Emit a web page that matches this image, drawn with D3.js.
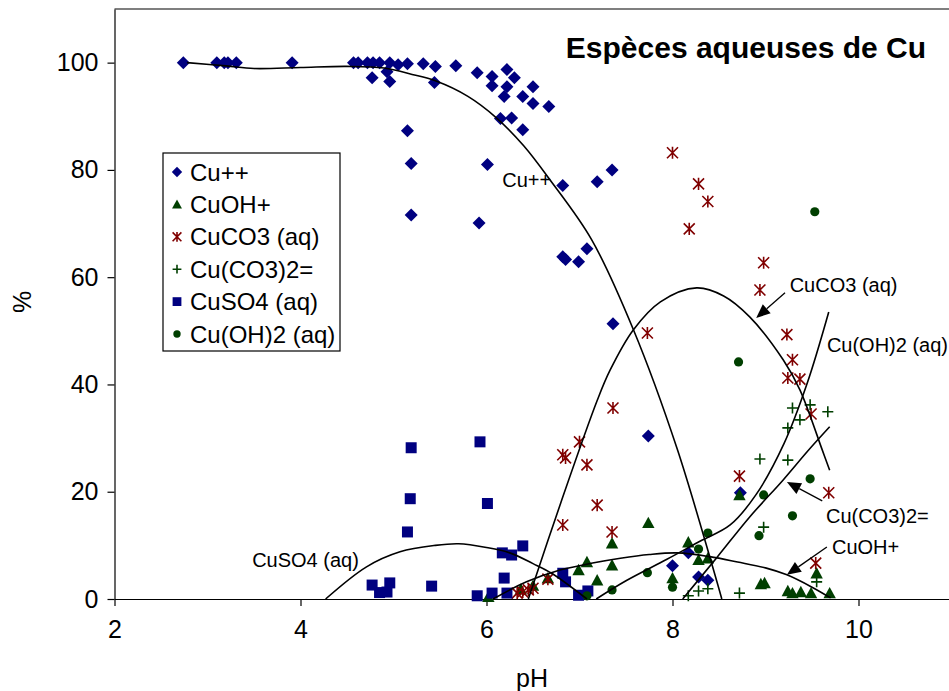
<!DOCTYPE html>
<html>
<head>
<meta charset="utf-8">
<script src="https://cdn.jsdelivr.net/npm/d3@7"></script>
<style>
  body { margin: 0; background: #fff; }
  svg text { font-family: Arial, "Liberation Sans", sans-serif; }
</style>
</head>
<body>
<svg id="chart" width="949" height="691"></svg>
<script>
// measured points, [pH, %]
let cuPlus = [[2.74,100],[3.10,100],[3.18,100],[3.22,100],[3.31,100],[3.91,100],[4.57,100],[4.62,100],
  [4.72,100],[4.78,100],[4.85,100],[4.96,100],[5.05,99.6],[5.15,99.8],[5.32,99.8],[5.45,99.3],[5.67,99.4],
  [5.90,98.1],[6.06,97.4],[6.22,98.7],[6.30,97.2],[6.06,95.7],[6.22,95.5],[6.19,93.7],[6.39,93.7],[6.50,95.5],
  [6.50,92.4],[6.67,91.8],[5.44,96.3],[6.15,89.6],[6.27,89.7],[6.39,87.5],[5.15,87.3],[5.19,81.2],[6.01,81.0],
  [6.82,77.1],[7.19,77.8],[7.35,80.0],[5.19,71.6],[5.92,70.1],[4.77,97.2],[4.93,98.3],[4.96,96.5],[6.82,63.8],
  [6.85,63.3],[6.99,62.9],[7.08,65.3],[7.36,51.3],[7.74,30.4],[8.17,8.6],[8.0,6.2],[8.28,4.1],[8.38,3.5],[8.73,19.8]];
let cuOHPlus = [[7.74,14.2],[8.17,10.6],[8.28,7.3],[8.38,7.6],[8.0,3.9],[8.72,19.4],[8.95,2.8],[8.99,3.0],
  [9.24,1.5],[9.29,1.1],[9.38,1.3],[9.49,1.1],[9.55,4.8],[9.69,1.1],[7.35,6.3],[7.35,10.4],[7.08,6.9],[6.99,5.4],
  [7.19,3.5],[6.02,0.4],[6.37,1.8],[6.5,2.5],[6.66,3.9]];
let cuCO3 = [[8.0,83.2],[8.28,77.4],[8.38,74.1],[8.18,69.0],[8.98,62.7],[8.94,57.6],[7.73,49.6],[9.23,49.3],
  [9.29,44.6],[9.24,41.2],[9.37,41.0],[9.49,34.5],[7.0,29.3],[6.82,26.9],[6.85,26.3],[7.08,25.0],[7.19,17.5],
  [6.82,13.8],[7.35,12.5],[7.36,35.6],[6.66,3.7],[6.50,2.0],[6.45,1.7],[6.39,1.3],[6.33,1.1],[8.72,22.9],
  [9.68,19.8],[9.54,6.7]];
let cuCO32 = [[9.29,35.6],[9.48,36.2],[9.67,34.9],[9.37,33.4],[9.24,31.9],[8.94,26.1],[9.24,25.9],[8.98,13.4],
  [9.55,3.2],[8.72,1.1],[8.38,1.9],[8.28,1.5],[8.17,0.6]];
let cuSO4 = [[5.19,28.2],[5.93,29.3],[5.18,18.7],[6.01,17.8],[5.15,12.5],[4.77,2.6],[4.85,1.2],[4.93,1.3],
  [4.96,3.0],[5.41,2.4],[5.90,0.6],[6.06,1.1],[6.17,8.6],[6.27,8.2],[6.39,9.9],[6.19,3.9],[6.22,1.1],[6.82,4.8],
  [6.85,3.2],[6.99,0.7],[7.09,1.5]];
let cuOH2 = [[9.53,72.2],[8.71,44.2],[9.48,22.4],[8.98,19.4],[9.29,15.5],[8.93,11.8],[8.38,12.3],[8.28,9.3],
  [8.0,2.2],[7.73,4.9],[7.35,1.7],[7.08,0.6]];

// trend curves
let fitCu = [[2.78,100],[3.2,99.4],[3.5,98.9],[4.0,99.1],[4.5,99.3],[4.9,99.0],[5.2,97.8],[5.45,96.6],
  [5.8,93.7],[6.1,89.8],[6.4,84.5],[6.68,78.2],[7.13,67],[7.58,50.2],[8.05,28],[8.53,0]];
let fitCuSO4 = [[4.27,0],[4.71,6.0],[5.07,8.8],[5.45,10.0],[5.7,10.3],[6.0,9.6],[6.25,8.6],[6.5,6.6],[6.7,4.8],[7.08,0]];
let fitCuCO3 = [[6.45,0],[6.8,18],[7.19,37],[7.33,42.7],[7.58,50.2],[7.87,55.4],[8.26,58],[8.55,56.5],
  [8.83,52.6],[9.19,44.6],[9.37,39],[9.61,27.8],[9.69,24]];
let fitCuOH = [[6.07,0],[6.43,3.2],[6.79,5.4],[7.14,6.7],[7.44,7.6],[7.75,8.3],[8.05,8.6],[8.4,7.9],
  [8.7,6.9],[9.0,5.8],[9.23,4.5],[9.5,2.2],[9.7,0.2]];
let fitCuCO32 = [[8.11,0],[8.48,7.8],[8.83,15.3],[9.19,22.2],[9.45,27.5],[9.69,32.1]];
let fitCuOH2 = [[7.18,0],[7.5,3.4],[7.94,7.4],[8.3,10.8],[8.62,13.8],[8.9,19.5],[9.2,29],[9.45,40.3],[9.68,53.5]];

let xTicks = [2, 4, 6, 8, 10];
let yTicks = [0, 20, 40, 60, 80, 100];

let legendNames = ["Cu++", "CuOH+", "CuCO3 (aq)", "Cu(CO3)2=", "CuSO4 (aq)", "Cu(OH)2 (aq)"];

// curve labels: text, [pH, %] of text, arrow from, arrow to
let notes = [
  {text: "Cu++", at: [6.17, 78.2]},
  {text: "CuSO4 (aq)", at: [3.48, 7.3]},
  {text: "CuCO3 (aq)", at: [9.26, 58.6], from: [9.21, 57.1], to: [8.90, 52.4]},
  {text: "Cu(OH)2 (aq)", at: [9.66, 47.4]},
  {text: "Cu(CO3)2=", at: [9.65, 15.5], from: [9.61, 18.3], to: [9.23, 21.8]},
  {text: "CuOH+", at: [9.715, 9.7], from: [9.66, 9.7], to: [9.23, 4.5]}
];

let navy = "#000080", dkGreen = "#003f00", dkRed = "#800000";

let series = [
  {name: legendNames[0], data: cuPlus, shape: "diamond", color: navy},
  {name: legendNames[1], data: cuOHPlus, shape: "triangle", color: dkGreen},
  {name: legendNames[2], data: cuCO3, shape: "star", color: dkRed},
  {name: legendNames[3], data: cuCO32, shape: "plus", color: dkGreen},
  {name: legendNames[4], data: cuSO4, shape: "square", color: navy},
  {name: legendNames[5], data: cuOH2, shape: "circle", color: dkGreen}
];
let fits = [fitCu, fitCuSO4, fitCuCO3, fitCuOH, fitCuCO32, fitCuOH2];

let width = 949, height = 691;
let x0 = 114.5, pxPerUnit = 93;
let x = d3.scaleLinear()
  .domain([2, 2 + (width - x0) / pxPerUnit])
  .range([x0, width]);
let y = d3.scaleLinear()
  .domain([0, 110])
  .range([599, 9]);

let svg = d3.select("#chart");

// marker path, s = scale
function shapePath(shape, s) {
  if (shape == "diamond") {
    let r = 6.5 * s;
    return "M0," + (-r) + "L" + r + ",0L0," + r + "L" + (-r) + ",0Z";
  }
  if (shape == "square") {
    let r = 5.5 * s;
    return "M" + (-r) + "," + (-r) + "H" + r + "V" + r + "H" + (-r) + "Z";
  }
  if (shape == "triangle") {
    let r = 6.2 * s;
    return "M0," + (-r) + "L" + (r * 1.0) + "," + (r * 0.85) + "L" + (-r) + "," + (r * 0.85) + "Z";
  }
  if (shape == "star") {
    let r = 5.5 * s;
    return "M" + (-r) + "," + (-r) + "L" + r + "," + r + "M" + r + "," + (-r) + "L" + (-r) + "," + r +
      "M0," + (-r * 1.1) + "V" + (r * 1.1);
  }
  if (shape == "plus") {
    let r = 5.5 * s;
    return "M" + (-r) + ",0H" + r + "M0," + (-r) + "V" + r;
  }
  let r = 4.6 * s;
  return d3.symbol(d3.symbolCircle, Math.PI * r * r)();
}

function drawMarker(sel, shape, color, s) {
  let stroked = shape == "star" || shape == "plus";
  sel.append("path")
    .attr("d", shapePath(shape, s))
    .attr("fill", stroked ? "none" : color)
    .attr("stroke", stroked ? color : "none")
    .attr("stroke-width", stroked ? 1.6 : 0);
}

// axes
let xAxis = d3.axisBottom(x).tickValues(xTicks).tickSize(7).tickPadding(14).tickSizeOuter(0);
let yAxis = d3.axisLeft(y).tickValues(yTicks).tickSize(7).tickPadding(9).tickSizeOuter(0);

svg.append("g")
  .attr("class", "x axis")
  .attr("transform", "translate(0," + y(0) + ")")
  .call(xAxis);

svg.append("g")
  .attr("class", "y axis")
  .attr("transform", "translate(" + x(2) + ",0)")
  .call(yAxis);

svg.selectAll(".axis text").style("font-size", "25px").attr("fill", "#000");
svg.selectAll(".axis path, .axis line").attr("stroke", "#000").attr("stroke-width", 1.2);

// top frame
svg.append("line")
  .attr("x1", x(2)).attr("x2", width)
  .attr("y1", y(110)).attr("y2", y(110))
  .attr("stroke", "#000").attr("stroke-width", 1.2);

// scatter
series.forEach(function (sr) {
  svg.append("g")
    .attr("class", "series")
    .selectAll("g")
    .data(sr.data)
    .enter().append("g")
    .attr("transform", function (d) {
      return "translate(" + x(d[0]) + "," + y(d[1]) + ")";
    })
    .each(function () {
      drawMarker(d3.select(this), sr.shape, sr.color, 1);
    });
});

// trend curves
let fitLine = d3.line()
  .x(function (d) { return x(d[0]); })
  .y(function (d) { return y(d[1]); })
  .curve(d3.curveCatmullRom.alpha(0.5));

svg.selectAll(".fit")
  .data(fits)
  .enter().append("path")
  .attr("class", "fit")
  .attr("d", fitLine)
  .attr("fill", "none")
  .attr("stroke", "#000")
  .attr("stroke-width", 1.6);

// curve labels and arrows
notes.forEach(function (n) {
  if (n.from) {
    let x1 = x(n.from[0]), y1 = y(n.from[1]), x2 = x(n.to[0]), y2 = y(n.to[1]);
    let ang = Math.atan2(y2 - y1, x2 - x1);
    let len = 14, half = 6;
    let bx = x2 - len * Math.cos(ang), by = y2 - len * Math.sin(ang);
    svg.append("line")
      .attr("x1", x1).attr("y1", y1).attr("x2", bx).attr("y2", by)
      .attr("stroke", "#000").attr("stroke-width", 1.3);
    svg.append("path")
      .attr("d", "M" + x2 + "," + y2 +
        "L" + (bx + half * Math.sin(ang)) + "," + (by - half * Math.cos(ang)) +
        "L" + (bx - half * Math.sin(ang)) + "," + (by + half * Math.cos(ang)) + "Z")
      .attr("fill", "#000");
  }
  svg.append("text")
    .attr("x", x(n.at[0]))
    .attr("y", y(n.at[1]))
    .attr("dy", "0.35em")
    .style("font-size", "20px")
    .text(n.text);
});

// title and axis titles
svg.append("text")
  .attr("x", 926).attr("y", 58)
  .attr("text-anchor", "end")
  .style("font-size", "30px")
  .style("font-weight", "bold")
  .text("Espèces aqueuses de Cu");

svg.append("text")
  .attr("x", 532).attr("y", 687)
  .attr("text-anchor", "middle")
  .style("font-size", "25px")
  .text("pH");

svg.append("text")
  .attr("transform", "translate(31,302) rotate(-90)")
  .attr("text-anchor", "middle")
  .style("font-size", "25px")
  .text("%");

// legend
let legend = svg.append("g").attr("transform", "translate(163,153)");
legend.append("rect")
  .attr("width", 177).attr("height", 198)
  .attr("fill", "#fff").attr("stroke", "#000").attr("stroke-width", 1.2);

let item = legend.selectAll(".item")
  .data(series)
  .enter().append("g")
  .attr("class", "item")
  .attr("transform", function (d, i) {
    return "translate(14," + (19 + i * 32.4) + ")";
  });

item.each(function (d) {
  drawMarker(d3.select(this), d.shape, d.color, 0.8);
});

item.append("text")
  .attr("x", 13)
  .attr("dy", "0.36em")
  .style("font-size", "24px")
  .text(function (d) { return d.name; });
</script>
</body>
</html>
